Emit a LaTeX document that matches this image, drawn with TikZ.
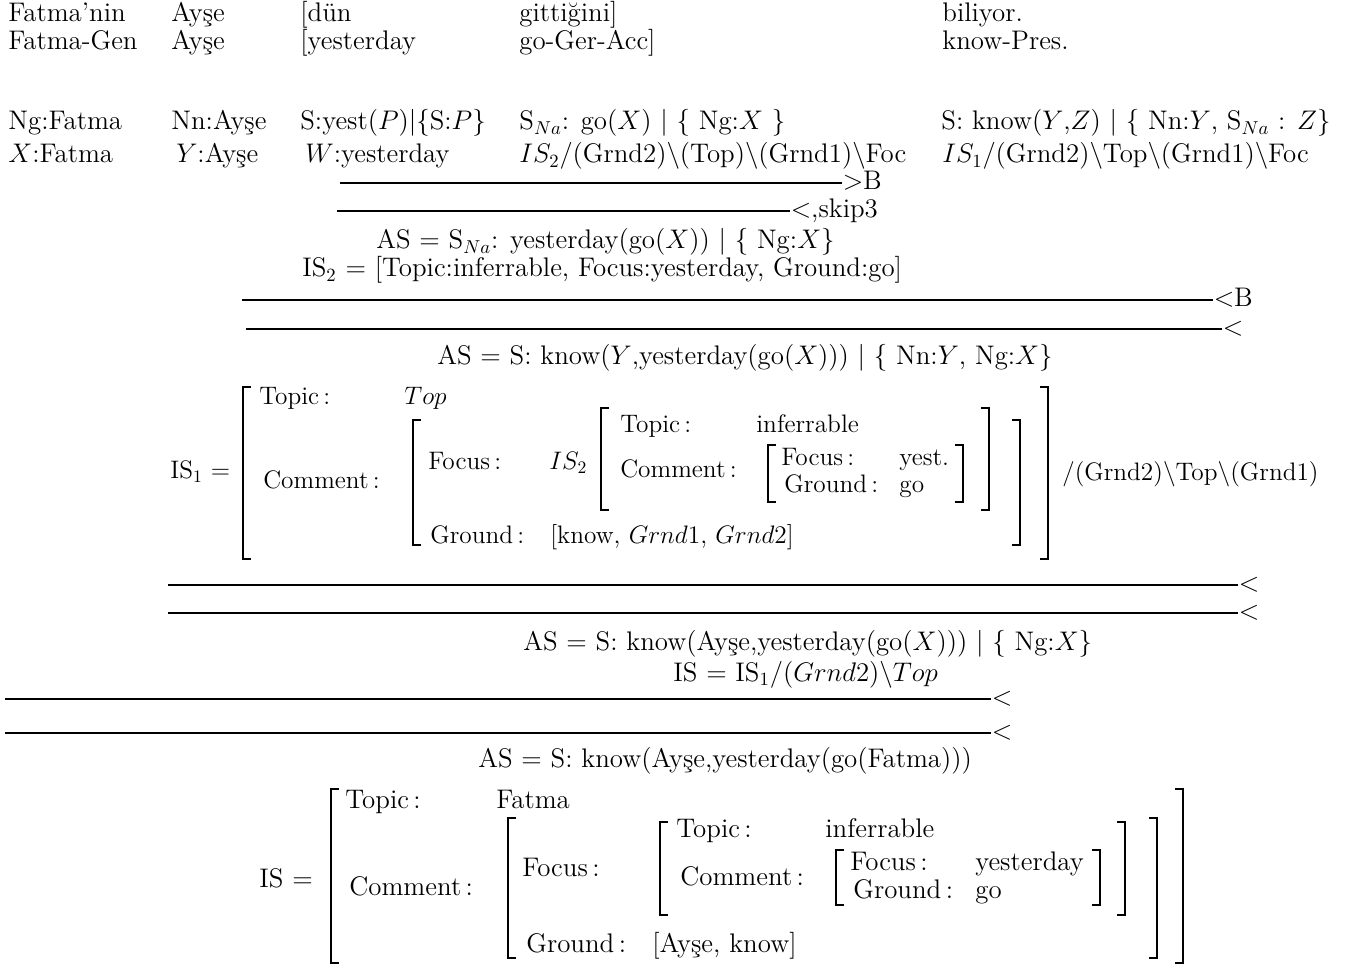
\documentclass[tikz,border=0pt]{standalone}
\usetikzlibrary{positioning}

\begin{document}
\begin{tikzpicture}[
    x=0.02cm, y=-0.02cm,
    every node/.style={font=\fontsize{14.4}{17}\selectfont},
    word/.style={anchor=base west, inner sep=0pt, scale=1.0625, transform shape},
    wordsm/.style={anchor=base west, inner sep=0pt},
    derivline/.style={line width=0.8pt},
    rulelab/.style={anchor=base west, inner sep=0pt, yshift=-0.13cm, scale=1.0625, transform shape},
    brak/.style={line width=1pt},
]
\useasboundingbox (0,0) rectangle (1346,969);

% ===== Sentence and glosses =====
\node[word] (w1) at (8,22) {Fatma'nin};
\node[word] (w2) at (171,22) {Ayşe};
\node[word] (w3) at (300,22) {[dün};
\node[word] (w4) at (519,22) {gittiğini]};
\node[word] (w5) at (942,22) {biliyor.};

\node[word] (g1) at (8,50) {Fatma-Gen};
\node[word] (g2) at (171,50) {Ayşe};
\node[word] (g3) at (300,50) {[yesterday};
\node[word] (g4) at (519,50) {go-Ger-Acc]};
\node[word] (g5) at (942,50) {know-Pres.};

% ===== Lexical categories =====
\node[word] (c1) at (8,130) {Ng:Fatma};
\node[word] (c2) at (171,130) {Nn:Ayşe};
\node[word] (c3) at (300,130) {S:yest($P$)$|$\{S:$P$\}};
\node[word] (c4) at (519,130) {S$_{Na}$: go($X$) $|$ \{ Ng:$X$ \}};
\node[word] (c5) at (941,130) {S: know($Y$,$Z$) $|$ \{ Nn:$Y$, S$_{Na}$ : $Z$\}};

\node[word] (i1) at (8,163) {$X$:Fatma};
\node[word] (i2) at (176,163) {$Y$:Ayşe};
\node[word] (i3) at (305,163) {$W$:yesterday};
\node[word] (i4) at (519,163) {$IS_2$/(Grnd2)$\backslash$(Top)$\backslash$(Grnd1)$\backslash$Foc};
\node[word] (i5) at (942,163) {$IS_1$/(Grnd2)$\backslash$Top$\backslash$(Grnd1)$\backslash$Foc};

% ===== Step 1: yesterday + go =====
\coordinate (d1a) at (340,183);
\coordinate (d1b) at (842,183);
\draw[derivline] (d1a) -- (d1b) node[rulelab] (d1l) {$>$B};
\coordinate (d2a) at (337,211);
\coordinate (d2b) at (790,211);
\draw[derivline] (d2a) -- (d2b) node[rulelab] (d2l) {$<$,skip3};

\node[word] (as1) at (376,249) {AS $=$ S$_{Na}$: yesterday(go($X$)) $|$ \{ Ng:$X$\}};
\node[word] (is2) at (302,277) {IS$_2$ $=$ [Topic:inferrable, Focus:yesterday, Ground:go]};

% ===== Step 2: combine with know =====
\coordinate (d3a) at (242,300);
\coordinate (d3b) at (1213,300);
\draw[derivline] (d3a) -- (d3b) node[rulelab] (d3l) {$<$B};
\coordinate (d4a) at (246,329);
\coordinate (d4b) at (1222,329);
\draw[derivline] (d4a) -- (d4b) node[rulelab] (d4l) {$<$};

\node[word] (as2) at (437,365) {AS $=$ S: know($Y$,yesterday(go($X$))) $|$ \{ Nn:$Y$, Ng:$X$\}};

% IS1 matrix
\node[wordsm] (is1) at (170,479) {IS$_1$ $=$};
\node[wordsm] (t1k) at (259,405) {Topic\,:};
\node[wordsm] (t1v) at (404,405) {$Top$};
\node[wordsm] (m1k) at (263,489) {Comment\,:};
\node[wordsm] (f1k) at (428,470) {Focus\,:};
\node[wordsm] (f1v) at (549,470) {$IS_2$};
\node[wordsm] (t2k) at (620,433) {Topic\,:};
\node[wordsm] (t2v) at (756,433) {inferrable};
\node[wordsm] (m2k) at (620,478) {Comment\,:};
\node[wordsm] (f2k) at (781,466) {Focus\,:};
\node[wordsm] (f2v) at (899,466) {yest.};
\node[wordsm] (r2k) at (784,493) {Ground\,:};
\node[wordsm] (r2v) at (899,493) {go};
\node[wordsm] (r1k) at (430,543) {Ground\,:};
\node[wordsm] (r1v) at (550,543) {[know, $Grnd1$, $Grnd2$]};
\node[wordsm] (rest1) at (1062,480) {/(Grnd2)$\backslash$Top$\backslash$(Grnd1)};

\draw[brak] (251,387) -| (243,559) -- (251,559);
\draw[brak] (1040,387) -| (1048,559) -- (1040,559);
\draw[brak] (421,420) -| (413,545) -- (421,545);
\draw[brak] (1012,420) -| (1020,545) -- (1012,545);
\draw[brak] (609,408) -| (601,510) -- (609,510);
\draw[brak] (981,408) -| (989,510) -- (981,510);
\draw[brak] (776,445) -| (768,502) -- (776,502);
\draw[brak] (955,445) -| (963,502) -- (955,502);

% ===== Step 3: combine with Ayse =====
\coordinate (d5a) at (168,585);
\coordinate (d5b) at (1238,585);
\draw[derivline] (d5a) -- (d5b) node[rulelab] (d5l) {$<$};
\coordinate (d6a) at (168,613);
\coordinate (d6b) at (1238,613);
\draw[derivline] (d6a) -- (d6b) node[rulelab] (d6l) {$<$};

\node[word] (as3) at (523,650) {AS $=$ S: know(Ayşe,yesterday(go($X$))) $|$ \{ Ng:$X$\}};
\node[word] (is3) at (673,681) {IS $=$ IS$_1$/($Grnd2$)$\backslash$$Top$};

% ===== Step 4: combine with Fatma =====
\coordinate (d7a) at (5,699);
\coordinate (d7b) at (991,699);
\draw[derivline] (d7a) -- (d7b) node[rulelab] (d7l) {$<$};
\coordinate (d8a) at (5,733);
\coordinate (d8b) at (991,733);
\draw[derivline] (d8a) -- (d8b) node[rulelab] (d8l) {$<$};

\node[word] (as4) at (478,767) {AS $=$ S: know(Ayşe,yesterday(go(Fatma)))};

% final IS matrix
\node[word] (is) at (259,887) {IS $=$};
\node[word] (t3k) at (345,808) {Topic\,:};
\node[word] (t3v) at (496,808) {Fatma};
\node[word] (m3k) at (349,895) {Comment\,:};
\node[word] (f3k) at (522,876) {Focus\,:};
\node[word] (t4k) at (676,837) {Topic\,:};
\node[word] (t4v) at (825,837) {inferrable};
\node[word] (m4k) at (680,885) {Comment\,:};
\node[word] (f4k) at (850,870) {Focus\,:};
\node[word] (f4v) at (975,870) {yesterday};
\node[word] (r4k) at (853,898) {Ground\,:};
\node[word] (r4v) at (975,898) {go};
\node[word] (r3k) at (526,952) {Ground\,:};
\node[word] (r3v) at (652,952) {[Ayşe, know]};

\draw[brak] (339,789) -| (331,963) -- (339,963);
\draw[brak] (1175,789) -| (1183,963) -- (1175,963);
\draw[brak] (516,818) -| (508,958) -- (516,958);
\draw[brak] (1149,818) -| (1157,958) -- (1149,958);
\draw[brak] (668,822) -| (660,915) -- (668,915);
\draw[brak] (1117,822) -| (1125,915) -- (1117,915);
\draw[brak] (844,850) -| (836,905) -- (844,905);
\draw[brak] (1092,850) -| (1100,905) -- (1092,905);

\end{tikzpicture}
\end{document}
